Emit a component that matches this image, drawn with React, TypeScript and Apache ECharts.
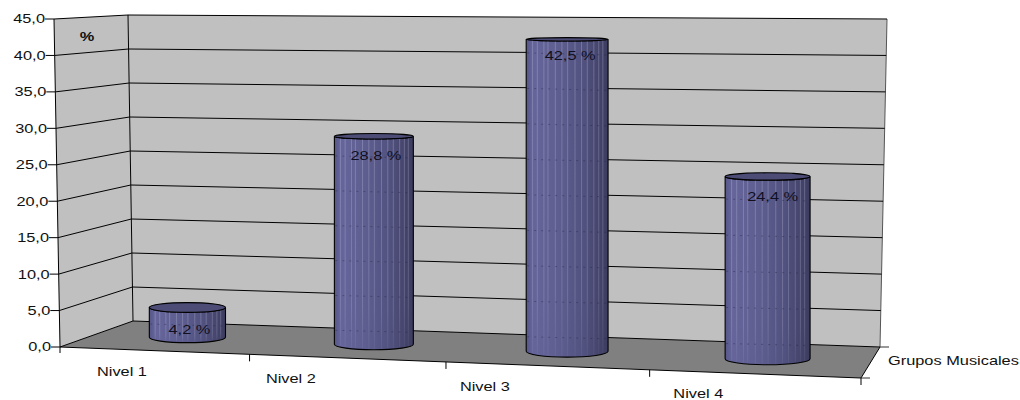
import React, { useEffect, useRef } from "react";
import * as echarts from "echarts";

// Chart content
const categories = ["Nivel 1", "Nivel 2", "Nivel 3", "Nivel 4"];
const percentValues = [4.2, 28.8, 42.5, 24.4];
const barLabels = ["4,2 %", "28,8 %", "42,5 %", "24,4 %"];
const axisTicks = [0, 5, 10, 15, 20, 25, 30, 35, 40, 45];
const axisTickLabels = ["0,0", "5,0", "10,0", "15,0", "20,0", "25,0", "30,0", "35,0", "40,0", "45,0"];
const unitLabel = "%";
const depthAxisLabel = "Grupos Musicales";

// Hidden cartesian grid: the library's scales are read from it, then projected into the box
const GRID = { left: 100, top: 20, width: 800, height: 320 };

// Corners of the 3D box on screen
const FRONT = { bl: [60, 347], tl: [54, 19], br: [861, 378], tr: [868, 28] };
const BACK = { bl: [133, 321], tl: [128, 15], br: [880, 347], tr: [887, 19] };
const PERSPECTIVE = 0.93;

const FONT = "'Liberation Sans', Arial, sans-serif";
const TEXT_STRETCH = 1.26;

// Layout tweaks for the text around the box
const categoryLabelShift = [-32, -56, -62, -56];
const categoryLabelDrop = [21, 21, 21, 20];
const barLabelDrop = [22, 19, 16, 20];
const barLabelShift = [2, 2, 3, 5];
// Light vertical streaks on each cylinder, as fractions of its width
const streakOffsets = [0.07, 0.13, 0.21, 0.26, 0.35, 0.43, 0.5, 0.59, 0.67, 0.74, 0.82, 0.88, 0.93];

const lerp = (a: number, b: number, t: number) => a + (b - a) * t;

function project(u: number, v: number, w: number): [number, number] {
  const s = (PERSPECTIVE * u) / (1 + (PERSPECTIVE - 1) * u);
  const plane = (c: typeof FRONT, i: number) =>
    lerp(lerp(c.bl[i], c.br[i], s), lerp(c.tl[i], c.tr[i], s), v);
  return [lerp(plane(FRONT, 0), plane(BACK, 0), w), lerp(plane(FRONT, 1), plane(BACK, 1), w)];
}

// Grid pixel -> unit coordinates of the box
const toUnit = (p: number[]) => [
  (p[0] - GRID.left) / GRID.width,
  (GRID.top + GRID.height - p[1]) / GRID.height,
];

function label(text: string, x: number, y: number, align: string, extra: any = {}) {
  return {
    type: "text",
    x,
    y,
    scaleX: TEXT_STRETCH,
    style: {
      text,
      fontSize: 13,
      fontFamily: FONT,
      fill: "#111",
      align,
      verticalAlign: "middle",
      ...extra,
    },
  };
}

const line = (a: number[], b: number[], stroke = "#000", lineWidth = 1) => ({
  type: "line",
  shape: { x1: a[0], y1: a[1], x2: b[0], y2: b[1] },
  style: { stroke, lineWidth },
});

const poly = (points: number[][], fill: string) => ({
  type: "polygon",
  shape: { points },
  style: { fill, stroke: "none" },
});

function renderBox() {
  const { bl: fbl, tl: ftl, br: fbr } = FRONT;
  const { bl: bbl, tl: btl, br: bbr, tr: btr } = BACK;
  return {
    type: "group",
    children: [
      poly([ftl, btl, bbl, fbl], "#c0c0c0"),
      poly([btl, btr, bbr, bbl], "#c0c0c0"),
      poly([fbl, bbl, bbr, fbr], "#808080"),
      line(btl, bbl),
      line(ftl, fbl),
      line(btr, bbr, "#555"),
      line(bbl, bbr),
      line(fbl, bbl),
      line(fbl, fbr),
      line(fbr, bbr),
      line(bbr, [bbr[0] + 9, bbr[1]], "#333"),
      line(fbr, [fbr[0] + 9, fbr[1]], "#333"),
      line(fbr, [fbr[0], fbr[1] + 7]),
      line(fbl, [fbl[0], fbl[1] + 6]),
      label(unitLabel, 87, 37, "center", { fontWeight: "bold" }),
      label(depthAxisLabel, 888, 361, "left"),
    ],
  };
}

function renderGridLine(_: any, api: any) {
  const tickIndex = api.value(0);
  const value = api.value(1);
  const [, v] = toUnit(api.coord([0, value]));
  const front = project(0, v, 0);
  const corner = project(0, v, 1);
  const end = project(1, v, 1);
  const children: any[] = [line([front[0] - 9, front[1]], front)];
  if (value > 0) {
    children.push(line(front, corner), line(corner, end));
  }
  children.push(label(axisTickLabels[tickIndex], front[0] - 9, front[1], "right"));
  return { type: "group", children };
}

function renderCategory(_: any, api: any) {
  const index = api.value(0);
  const [u] = toUnit(api.coord([index, 0]));
  const bandU = api.size([1, 0])[0] / GRID.width;
  const edge = project(u + bandU / 2, 0, 0);
  const mid = project(u, 0, 0);
  const children: any[] = [];
  if (index < categories.length - 1) {
    children.push(line(edge, [edge[0], edge[1] + 7]));
  }
  children.push(
    label(categories[index], mid[0] + categoryLabelShift[index], mid[1] + categoryLabelDrop[index], "center"),
  );
  return { type: "group", children };
}

function renderCylinder(_: any, api: any) {
  const index = api.value(0);
  const value = api.value(1);
  const [u, v] = toUnit(api.coord([index, value]));
  const halfU = (api.size([1, 0])[0] / GRID.width) * 0.208;
  const left = project(u - halfU, 0, 0.5)[0];
  const right = project(u + halfU, 0, 0.5)[0];
  const cx = (left + right) / 2;
  const rx = (right - left) / 2;
  const yb = project(u, 0, 0.5)[1];
  const yt = project(u, v, 0.5)[1];
  // Ellipse height follows how far the box recedes at that level
  const radiusAt = (level: number) =>
    Math.abs(project(u, level, 0.7)[1] - project(u, level, 0.3)[1]) / 2;
  const rb = radiusAt(0);
  const rt = radiusAt(v);

  const shade = {
    type: "linear",
    x: 0,
    y: 0,
    x2: 1,
    y2: 0,
    colorStops: [
      { offset: 0, color: "#56568a" },
      { offset: 0.08, color: "#65659b" },
      { offset: 0.35, color: "#5f5f92" },
      { offset: 0.7, color: "#525280" },
      { offset: 1, color: "#3c3c60" },
    ],
  };
  const body = {
    type: "path",
    shape: {
      pathData: `M${left} ${yt}L${left} ${yb}A${rx} ${rb} 0 0 0 ${right} ${yb}L${right} ${yt}A${rx} ${rt} 0 0 1 ${left} ${yt}Z`,
    },
    style: { fill: shade, stroke: "#000", lineWidth: 1.1 },
  };

  const streaks = streakOffsets.map((offset) => {
    const t = offset * 2 - 1;
    const arc = Math.sqrt(1 - t * t);
    const y1 = yt + rt * arc;
    const y2 = yb + rb * arc - 1;
    return {
      type: "rect",
      shape: { x: left + offset * (right - left), y: y1, width: 1, height: Math.max(y2 - y1, 1) },
      style: {
        fill: {
          type: "linear",
          x: 0,
          y: 0,
          x2: 0,
          y2: 1,
          colorStops: [
            { offset: 0, color: "rgba(215,215,240,0.26)" },
            { offset: 0.8, color: "rgba(215,215,240,0.2)" },
            { offset: 1, color: "rgba(215,215,240,0.06)" },
          ],
        },
      },
    };
  });

  // Wall gridlines showing faintly through the cylinder
  const ghostLines = axisTicks
    .map((tick) => {
      const tv = toUnit(api.coord([index, tick]))[1];
      return project(u, tv, 1)[1];
    })
    .filter((y) => y > yt + rt + 3 && y < yb)
    .map((y) => ({
      type: "line",
      shape: { x1: left + 1, y1: y, x2: right - 1, y2: y + 2 },
      style: { stroke: "rgba(30,30,60,0.35)", lineWidth: 1, lineDash: [2, 5] },
    }));

  const topFace = {
    type: "ellipse",
    shape: { cx, cy: yt, rx, ry: rt },
    style: { fill: "#4c4c76", stroke: "#000", lineWidth: 1.1 },
  };

  return {
    type: "group",
    children: [
      body,
      ...streaks,
      ...ghostLines,
      topFace,
      label(barLabels[index], cx + barLabelShift[index], yt + barLabelDrop[index], "center", { fill: "#10101e" }),
    ],
  };
}

export default function App() {
  const ref = useRef<HTMLDivElement>(null);

  useEffect(() => {
    if (!ref.current) return;
    const chart = echarts.init(ref.current, undefined, { renderer: "svg" });
    const customBase = { type: "custom", silent: true, clip: false };
    chart.setOption({
      animation: false,
      backgroundColor: "#fff",
      grid: { ...GRID },
      xAxis: { type: "category", data: categories, show: false },
      yAxis: { type: "value", min: 0, max: 45, interval: 5, show: false },
      series: [
        { ...customBase, name: "box", z: 1, renderItem: renderBox, data: [[0, 0]] },
        {
          ...customBase,
          name: "gridlines",
          z: 2,
          renderItem: renderGridLine,
          encode: { x: 2, y: 1 },
          data: axisTicks.map((tick, i) => [i, tick, 0]),
        },
        {
          ...customBase,
          name: "categories",
          z: 3,
          renderItem: renderCategory,
          encode: { x: 0, y: 1 },
          data: categories.map((_, i) => [i, 0]),
        },
        {
          ...customBase,
          name: "%",
          z: 4,
          renderItem: renderCylinder,
          encode: { x: 0, y: 1 },
          data: percentValues.map((value, i) => [i, value]),
        },
      ],
    });
    return () => chart.dispose();
  }, []);

  return (
    <div
      ref={ref}
      style={{ position: "absolute", left: 0, top: 0, width: 1020, height: 400 }}
    />
  );
}
